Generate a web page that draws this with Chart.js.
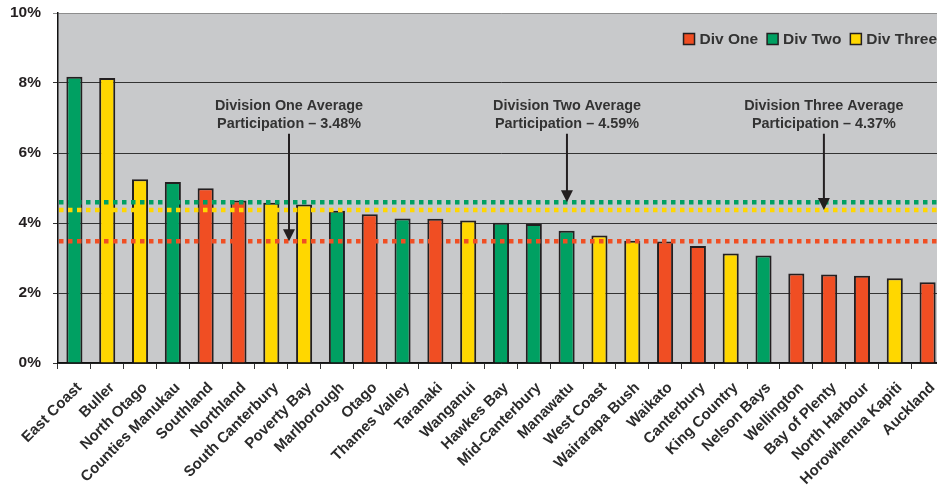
<!DOCTYPE html>
<html>
<head>
<meta charset="utf-8">
<script src="https://cdn.jsdelivr.net/npm/chart.js@4.4.1/dist/chart.umd.min.js"></script>
<style>
  html, body { margin: 0; padding: 0; background: #fff; overflow: hidden; }
  #wrap { width: 937px; height: 494px; overflow: hidden; }
</style>
</head>
<body>
<div id="wrap"><canvas id="participation" width="944" height="494"></canvas></div>
<script>
const teams = ['East Coast', 'Buller', 'North Otago', 'Counties Manukau', 'Southland', 'Northland',
    'South Canterbury', 'Poverty Bay', 'Marlborough', 'Otago', 'Thames Valley', 'Taranaki',
    'Wanganui', 'Hawkes Bay', 'Mid-Canterbury', 'Manawatu', 'West Coast', 'Wairarapa Bush',
    'Waikato', 'Canterbury', 'King Country', 'Nelson Bays', 'Wellington', 'Bay of Plenty',
    'North Harbour', 'Horowhenua Kapiti', 'Auckland'];
const participation = [8.18, 8.14, 5.25, 5.17, 4.99, 4.64, 4.58, 4.53, 4.35, 4.25, 4.13, 4.12,
    4.07, 4.01, 3.97, 3.78, 3.64, 3.49, 3.47, 3.34, 3.13, 3.07, 2.56, 2.53, 2.49, 2.42, 2.31];
// 1 = Div One, 2 = Div Two, 3 = Div Three
const division = [2, 3, 3, 2, 1, 1, 3, 3, 2, 1, 2, 1, 3, 2, 2, 2, 3, 3, 1, 1, 3, 2, 1, 1, 1, 3, 1];

const divisionNames = ['Div One', 'Div Two', 'Div Three'];
const divisionColours = ['#f04e23', '#00a062', '#ffd700'];
const divisionAverages = [3.48, 4.59, 4.37];
const averageTitles = ['Division One Average', 'Division Two Average', 'Division Three Average'];
const yTicks = [0, 2, 4, 6, 8, 10];

// where the callout arrows sit, in category units, and where they start on the y axis
const arrowAt = [6.54, 15.01, 22.84];
const arrowTop = 6.55;
const FONT = 'Liberation Sans';

const datasets = divisionNames.map((name, d) => ({
    label: name,
    data: participation.map((v, i) => division[i] === d + 1 ? v : null),
    backgroundColor: divisionColours[d],
    borderColor: '#231f20',
    borderWidth: 2,
    skipNull: true,
    categoryPercentage: 1,
    barPercentage: 0.49
}));

const plotBackground = {
    id: 'plotBackground',
    beforeDraw(chart) {
        const {ctx, chartArea} = chart;
        ctx.save();
        ctx.fillStyle = '#c8c9cb';
        ctx.fillRect(chartArea.left, chartArea.top, chartArea.right - chartArea.left, chartArea.bottom - chartArea.top);
        ctx.restore();
    }
};

const overlay = {
    id: 'overlay',
    afterDatasetsDraw(chart) {
        const {ctx, chartArea, scales: {x, y}} = chart;
        ctx.save();
        // dotted average lines
        divisionAverages.forEach((avg, d) => {
            const py = y.getPixelForValue(avg);
            ctx.strokeStyle = divisionColours[d];
            ctx.lineWidth = 4.5;
            ctx.setLineDash([4.5, 4.5]);
            ctx.beginPath();
            ctx.moveTo(chartArea.left + 1, py);
            ctx.lineTo(chartArea.right, py);
            ctx.stroke();
        });
        ctx.setLineDash([]);

        // callouts
        divisionAverages.forEach((avg, d) => {
            const px = x.getPixelForValue(arrowAt[d]);
            const top = y.getPixelForValue(arrowTop);
            const tip = y.getPixelForValue(avg);
            ctx.strokeStyle = '#231f20';
            ctx.fillStyle = '#231f20';
            ctx.lineWidth = 2;
            ctx.beginPath();
            ctx.moveTo(px, top);
            ctx.lineTo(px, tip - 10);
            ctx.stroke();
            ctx.beginPath();
            ctx.moveTo(px - 6, tip - 12);
            ctx.lineTo(px + 6, tip - 12);
            ctx.lineTo(px, tip);
            ctx.closePath();
            ctx.fill();

            ctx.fillStyle = '#333';
            ctx.font = 'bold 14.4px "' + FONT + '"';
            ctx.textAlign = 'center';
            ctx.textBaseline = 'middle';
            ctx.fillText(averageTitles[d], px, top - 28);
            ctx.fillText('Participation \u2013 ' + avg.toFixed(2) + '%', px, top - 10);
        });
        ctx.restore();
    },
    afterDraw(chart) {
        // legend, top right inside the plot
        const {ctx, chartArea} = chart;
        ctx.save();
        ctx.font = 'bold 15.5px "' + FONT + '"';
        ctx.textBaseline = 'middle';
        ctx.textAlign = 'left';
        const box = 11, gap = 5, spacing = 9;
        const widths = divisionNames.map(n => ctx.measureText(n).width);
        const total = widths.reduce((a, w) => a + box + gap + w, 0) + spacing * (divisionNames.length - 1);
        let lx = chartArea.right - total - 7;
        const ly = chartArea.top + 26;
        divisionNames.forEach((name, d) => {
            ctx.fillStyle = divisionColours[d];
            ctx.fillRect(lx, ly - box / 2, box, box);
            ctx.strokeStyle = '#231f20';
            ctx.lineWidth = 1.5;
            ctx.strokeRect(lx, ly - box / 2, box, box);
            ctx.fillStyle = '#333';
            ctx.fillText(name, lx + box + gap, ly + 1);
            lx += box + gap + widths[d] + spacing;
        });
        ctx.restore();
    }
};

new Chart(document.getElementById('participation'), {
    type: 'bar',
    data: { labels: teams, datasets: datasets },
    options: {
        responsive: false,
        animation: false,
        layout: { padding: { top: 13, right: 0, left: 0, bottom: 0 } },
        plugins: { legend: { display: false }, tooltip: { enabled: false } },
        scales: {
            x: {
                grid: { drawOnChartArea: false, color: '#333', tickLength: 6, offset: true },
                border: { color: '#111', width: 1.5 },
                ticks: {
                    autoSkip: false, minRotation: 45, maxRotation: 45, padding: 10, labelOffset: 5,
                    color: '#2b2b2b',
                    font: { family: FONT, size: 15, weight: 'bold' }
                },
                afterFit: s => { s.height = 131; s.paddingRight = 0; }
            },
            y: {
                min: yTicks[0],
                max: yTicks[yTicks.length - 1],
                afterBuildTicks: s => { s.ticks = yTicks.map(v => ({ value: v })); },
                grid: { color: c => c.tick && c.tick.value === 10 ? '#8d8d8d' : '#333', tickLength: 5 },
                border: { color: '#111', width: 1.5 },
                ticks: {
                    padding: 12,
                    color: '#231f20',
                    callback: v => v + '%',
                    font: { family: FONT, size: 15.5, weight: 'bold' }
                },
                afterFit: s => { s.width = 58; s.paddingTop = 0; }
            }
        }
    },
    plugins: [plotBackground, overlay]
});
</script>
</body>
</html>
